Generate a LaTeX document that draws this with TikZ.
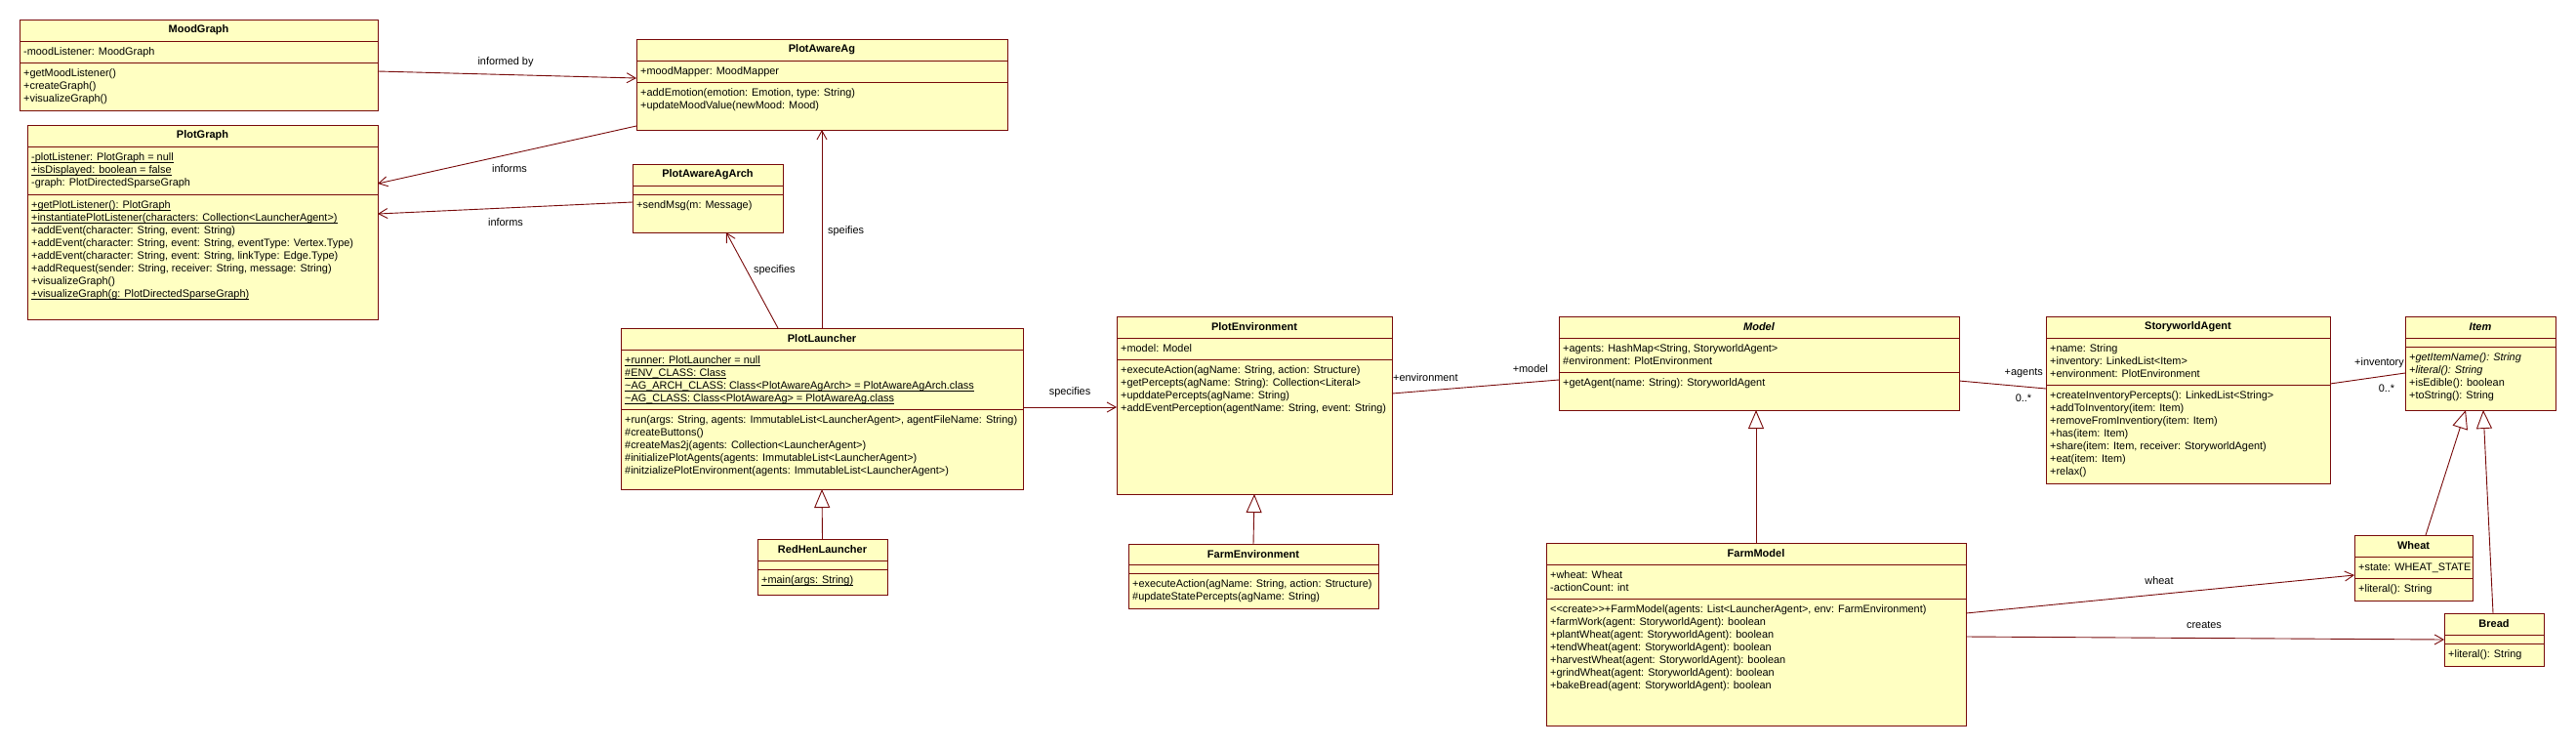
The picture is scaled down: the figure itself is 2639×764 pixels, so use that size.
\documentclass[tikz,border=0pt]{standalone}
\usepackage{fontspec}
\setmainfont{Liberation Sans}
\usetikzlibrary{arrows.meta}
\definecolor{umlline}{RGB}{120,10,10}
\definecolor{umlfill}{RGB}{255,255,194}
\newsavebox\stbox
\newcommand\st[1]{\sbox\stbox{#1}\rlap{\rule[-1.8pt]{\wd\stbox}{0.7pt}}\usebox\stbox}
\newcommand\fl{\rule{0pt}{10.5pt}}
\newcommand\umlclass[7]{%
  \node[classbox, minimum width={(#4-#2)*1pt}, minimum height={(#5-#3)*1pt}] (#1) at ({(#2+#4)/2},{(#3+#5)/2}) {};
  \draw[sep] (#2,#6) -- (#4,#6);
  \draw[sep] (#2,#7) -- (#4,#7);
}
\begin{document}
\begin{tikzpicture}[x=1pt,y=-1pt,
  classbox/.style={draw=umlline, fill=umlfill, line width=1pt, inner sep=0pt, outer sep=0pt},
  sep/.style={draw=umlline, line width=1pt},
  ctitle/.style={inner sep=0pt, font=\fontsize{11}{13}\selectfont\bfseries},
  members/.style={anchor=north west, inner sep=0pt, align=left, font=\fontsize{10.9}{13}\selectfont},
  lbl/.style={inner sep=0pt, font=\fontsize{10.9}{13}\selectfont},
  conn/.style={draw=umlline, line width=0.9pt},
  nav/.style={conn, -{Straight Barb[length=9pt,width=10pt]}},
  gen/.style={conn, -{Triangle[open,length=19pt,width=16pt,fill=white]}},
  assoc/.style={conn}
]
\fill[white] (0,0) rectangle (2639,764);
\useasboundingbox (0,0) rectangle (2639,764);

% MoodGraph
\umlclass{mood}{20}{20}{387}{113}{42}{64}
\node[ctitle] (moodT) at (203.5,31) {MoodGraph};
\node[members] (moodA) at (24,46) {\fl-moodListener: MoodGraph};
\node[members] (moodO) at (24,68) {\fl+getMoodListener()\\+createGraph()\\+visualizeGraph()};

% PlotGraph
\umlclass{pg}{28}{128}{387}{327}{150}{199}
\node[ctitle] (pgT) at (207.5,139) {PlotGraph};
\node[members] (pgA) at (32,154) {\fl\st{-plotListener: PlotGraph = null}\\\st{+isDisplayed: boolean = false}\\-graph: PlotDirectedSparseGraph};
\node[members] (pgO) at (32,203) {\fl\st{+getPlotListener(): PlotGraph}\\\st{+instantiatePlotListener(characters: Collection<LauncherAgent>)}\\+addEvent(character: String, event: String)\\+addEvent(character: String, event: String, eventType: Vertex.Type)\\+addEvent(character: String, event: String, linkType: Edge.Type)\\+addRequest(sender: String, receiver: String, message: String)\\+visualizeGraph()\\\st{+visualizeGraph(g: PlotDirectedSparseGraph)}};

% PlotAwareAg
\umlclass{paa}{652}{40}{1032}{133}{62}{84}
\node[ctitle] (paaT) at (842,51) {PlotAwareAg};
\node[members] (paaA) at (656,66) {\fl+moodMapper: MoodMapper};
\node[members] (paaO) at (656,88) {\fl+addEmotion(emotion: Emotion, type: String)\\+updateMoodValue(newMood: Mood)};

% PlotAwareAgArch
\umlclass{paaa}{648}{168}{802}{238}{190}{199}
\node[ctitle] (paaaT) at (725,179) {PlotAwareAgArch};
\node[members] (paaaO) at (652,203) {\fl+sendMsg(m: Message)};

% PlotLauncher
\umlclass{pl}{636}{336}{1048}{501}{358}{419}
\node[ctitle] (plT) at (842,347) {PlotLauncher};
\node[members] (plA) at (640,362) {\fl\st{+runner: PlotLauncher = null}\\\st{\#ENV\_CLASS: Class}\\\st{\textasciitilde AG\_ARCH\_CLASS: Class<PlotAwareAgArch> = PlotAwareAgArch.class}\\\st{\textasciitilde AG\_CLASS: Class<PlotAwareAg> = PlotAwareAg.class}};
\node[members] (plO) at (640,423) {\fl+run(args: String, agents: ImmutableList<LauncherAgent>, agentFileName: String)\\\#createButtons()\\\#createMas2j(agents: Collection<LauncherAgent>)\\\#initializePlotAgents(agents: ImmutableList<LauncherAgent>)\\\#initzializePlotEnvironment(agents: ImmutableList<LauncherAgent>)};

% RedHenLauncher
\umlclass{rhl}{776}{552}{909}{609}{574}{583}
\node[ctitle] (rhlT) at (842.5,563) {RedHenLauncher};
\node[members] (rhlO) at (780,587) {\fl\st{+main(args: String)}};

% PlotEnvironment
\umlclass{penv}{1144}{324}{1426}{506}{346}{368}
\node[ctitle] (penvT) at (1285,335) {PlotEnvironment};
\node[members] (penvA) at (1148,350) {\fl+model: Model};
\node[members] (penvO) at (1148,372) {\fl+executeAction(agName: String, action: Structure)\\+getPercepts(agName: String): Collection<Literal>\\+upddatePercepts(agName: String)\\+addEventPerception(agentName: String, event: String)};

% FarmEnvironment
\umlclass{fenv}{1156}{557}{1412}{623}{578}{587}
\node[ctitle] (fenvT) at (1284,567.5) {FarmEnvironment};
\node[members] (fenvO) at (1160,591) {\fl+executeAction(agName: String, action: Structure)\\\#updateStatePercepts(agName: String)};

% Model
\umlclass{model}{1597}{324}{2007}{420}{346}{381}
\node[ctitle] (modelT) at (1802,335) {\itshape Model};
\node[members] (modelA) at (1601,350) {\fl+agents: HashMap<String, StoryworldAgent>\\\#environment: PlotEnvironment};
\node[members] (modelO) at (1601,385) {\fl+getAgent(name: String): StoryworldAgent};

% FarmModel
\umlclass{fm}{1584}{556}{2014}{743}{578}{613}
\node[ctitle] (fmT) at (1799,567) {FarmModel};
\node[members] (fmA) at (1588,582) {\fl+wheat: Wheat\\-actionCount: int};
\node[members] (fmO) at (1588,617) {\fl<{}<create>{}>+FarmModel(agents: List<LauncherAgent>, env: FarmEnvironment)\\+farmWork(agent: StoryworldAgent): boolean\\+plantWheat(agent: StoryworldAgent): boolean\\+tendWheat(agent: StoryworldAgent): boolean\\+harvestWheat(agent: StoryworldAgent): boolean\\+grindWheat(agent: StoryworldAgent): boolean\\+bakeBread(agent: StoryworldAgent): boolean};

% StoryworldAgent
\umlclass{swa}{2096}{324}{2387}{495}{346}{394}
\node[ctitle] (swaT) at (2241.5,335) {StoryworldAgent};
\node[members] (swaA) at (2100,350) {\fl+name: String\\+inventory: LinkedList<Item>\\+environment: PlotEnvironment};
\node[members] (swaO) at (2100,398) {\fl+createInventoryPercepts(): LinkedList<String>\\+addToInventory(item: Item)\\+removeFromInventiory(item: Item)\\+has(item: Item)\\+share(item: Item, receiver: StoryworldAgent)\\+eat(item: Item)\\+relax()};

% Item
\umlclass{item}{2464}{324}{2618}{420}{346}{355}
\node[ctitle] (itemT) at (2541,335) {\itshape Item};
\node[members] (itemO) at (2468,359) {\fl\textit{+getItemName(): String}\\\textit{+literal(): String}\\+isEdible(): boolean\\+toString(): String};

% Wheat
\umlclass{wheat}{2412}{548}{2533}{615}{570}{592}
\node[ctitle] (wheatT) at (2472.5,559) {Wheat};
\node[members] (wheatA) at (2416,574) {\fl+state: WHEAT\_STATE};
\node[members] (wheatO) at (2416,596) {\fl+literal(): String};

% Bread
\umlclass{bread}{2504}{628}{2606}{682}{650}{659}
\node[ctitle] (breadT) at (2555,639) {Bread};
\node[members] (breadO) at (2508,663) {\fl+literal(): String};

% connectors
\draw[nav] ([yshift=-6.5pt]mood.east) -- ([yshift=6.5pt]paa.west);
\draw[nav] ([yshift=-42.5pt]paa.west) -- ([yshift=39.5pt]pg.east);
\draw[nav] ([yshift=-4pt]paaa.west) -- ([yshift=8.5pt]pg.east);
\draw[nav] (pl.north) -- (paa.south);
\draw[nav] ([xshift=-45pt]pl.north) -- ([xshift=19pt]paaa.south);
\draw[gen] (rhl.north) -- (pl.south);
\draw[nav] ([yshift=1.5pt]pl.east) -- ([yshift=-2pt]penv.west);
\draw[gen] (fenv.north) -- (penv.south);
\draw[assoc] ([yshift=12pt]penv.east) -- ([yshift=-17pt]model.west);
\draw[gen] (fm.north) -- (fm.north |- model.south);
\draw[assoc] ([yshift=-18pt]model.east) -- ([yshift=11.5pt]swa.west);
\draw[assoc] ([yshift=16.5pt]swa.east) -- ([yshift=-10pt]item.west);
\draw[gen] ([xshift=12.5pt]wheat.north) -- ([xshift=-15pt]item.south);
\draw[gen] ([xshift=-1pt]bread.north) -- ([xshift=3pt]item.south);
\draw[nav] ([yshift=21.5pt]fm.east) -- ([yshift=-7.5pt]wheat.west);
\draw[nav] ([yshift=-2.5pt]fm.east) -- (bread.west);

% labels
\node[lbl] (l1) at (518,64) {informed by};
\node[lbl] (l2) at (522,173) {informs};
\node[lbl] (l3) at (518,228) {informs};
\node[lbl,anchor=west] (l4) at (848,237) {speifies};
\node[lbl,anchor=west] (l5) at (772,277) {specifies};
\node[lbl] (l6) at (1096,402) {specifies};
\node[lbl,anchor=west] (l7) at (1427,387) {+environment};
\node[lbl,anchor=east] (l8) at (1586,378) {+model};
\node[lbl,anchor=east] (l9) at (2093,382) {+agents};
\node[lbl] (l10) at (2073,408) {0..*};
\node[lbl,anchor=east] (l11) at (2463,372) {+inventory};
\node[lbl] (l12) at (2445,398) {0..*};
\node[lbl] (l13) at (2212,595) {wheat};
\node[lbl] (l14) at (2258,640) {creates};
\end{tikzpicture}
\end{document}
